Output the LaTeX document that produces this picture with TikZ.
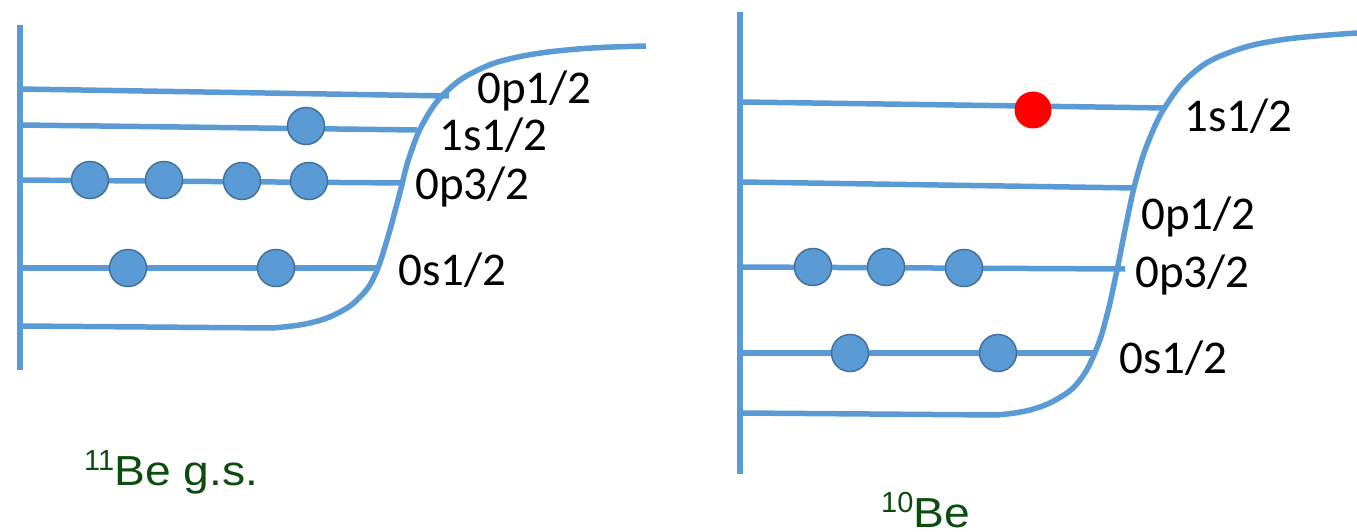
\documentclass[tikz,border=0pt]{standalone}
\usepackage{fontspec}
\setmainfont{Carlito}
\newfontfamily\titlefont{Liberation Sans}
\definecolor{lvl}{RGB}{91,155,213}
\definecolor{dotedge}{RGB}{65,113,156}
\definecolor{ttlgreen}{RGB}{12,76,14}
\begin{document}
\begin{tikzpicture}[x=1pt,y=-1pt,
  level/.style={draw=lvl,line width=5.5pt},
  electron/.style={circle,fill=lvl,draw=dotedge,line width=1.5pt,minimum size=37pt,inner sep=0pt},
  extra/.style={circle,fill=red,draw=none,minimum size=37pt,inner sep=0pt},
  lab/.style={anchor=west,inner sep=0pt,font=\fontsize{47}{50}\selectfont},
  ttl/.style={anchor=base west,inner sep=0pt,text=ttlgreen,font=\titlefont\fontsize{42}{44}\selectfont}]
\useasboundingbox (0,0) rectangle (1357,532);

% ---------- left panel: 11Be g.s.
\coordinate (LaxT) at (20,25);  \coordinate (LaxB) at (20,370);
\coordinate (L1a) at (20,89);   \coordinate (L1b) at (449,96);
\coordinate (L2a) at (20,125);  \coordinate (L2b) at (417,130);
\coordinate (L3a) at (17,180);  \coordinate (L3b) at (405,183);
\coordinate (L4a) at (20,268);  \coordinate (L4b) at (377,268);
\coordinate (L5a) at (20,326);  \coordinate (L5b) at (273,328);
\draw[level] (LaxT) -- (LaxB);
\draw[level] (L1a) -- (L1b);
\draw[level] (L2a) -- (L2b);
\draw[level] (L3a) -- (L3b);
\draw[level] (L4a) -- (L4b);
\draw[level] (L5a) -- (L5b);
\draw[level] plot[smooth,tension=0.7] coordinates {(L5b) (310,323) (340,312) (361,296) (375,275) (387,240) (398,200) (410,155) (426,118) (448,90) (478,70) (518,57) (578,49) (646,46)};

\node[electron] (le1) at (306,126) {};
\node[electron] (le2) at (90,180) {};
\node[electron] (le3) at (164,180) {};
\node[electron] (le4) at (242,181) {};
\node[electron] (le5) at (309,181) {};
\node[electron] (le6) at (128,268) {};
\node[electron] (le7) at (276,268) {};

\node[lab] (ll1) at (477,91) {0p1/2};
\node[lab] (ll2) at (439,135) {1s1/2};
\node[lab] (ll3) at (415,187) {0p3/2};
\node[lab] (ll4) at (398,270) {0s1/2};

\node[ttl] (lt) at (84,485) {\raisebox{14.5pt}{\fontsize{29}{29}\selectfont 11}\scalebox{1.1}[1]{Be g.s.}};

% ---------- right panel: 10Be
\coordinate (RaxT) at (740,12);  \coordinate (RaxB) at (740,474);
\coordinate (R1a) at (742,102);  \coordinate (R1b) at (1166,108);
\coordinate (R2a) at (742,182);  \coordinate (R2b) at (1135,188);
\coordinate (R3a) at (742,267);  \coordinate (R3b) at (1125,269);
\coordinate (R4a) at (742,353);  \coordinate (R4b) at (1094,353);
\coordinate (R5a) at (742,413);  \coordinate (R5b) at (997,415);
\draw[level] (RaxT) -- (RaxB);
\draw[level] (R1a) -- (R1b);
\draw[level] (R2a) -- (R2b);
\draw[level] (R3a) -- (R3b);
\draw[level] (R4a) -- (R4b);
\draw[level] (R5a) -- (R5b);
\draw[level] plot[smooth,tension=0.7] coordinates {(R5b) (1030,410) (1059,398) (1080,380) (1096,350) (1107,315) (1117,270) (1126,225) (1136,180) (1149,140) (1167,104) (1193,73) (1228,53) (1280,40) (1357,33)};

\node[extra] (re0) at (1033,110) {};
\node[electron] (re1) at (813,267) {};
\node[electron] (re2) at (886,267) {};
\node[electron] (re3) at (964,268) {};
\node[electron] (re4) at (850,353) {};
\node[electron] (re5) at (998,353) {};

\node[lab] (rl1) at (1184,116) {1s1/2};
\node[lab] (rl2) at (1141,217) {0p1/2};
\node[lab] (rl3) at (1135,275) {0p3/2};
\node[lab] (rl4) at (1119,358) {0s1/2};

\node[ttl] (rt) at (881,527) {\raisebox{14.5pt}{\fontsize{29}{29}\selectfont 10}\scalebox{1.1}[1]{Be}};
\end{tikzpicture}
\end{document}
